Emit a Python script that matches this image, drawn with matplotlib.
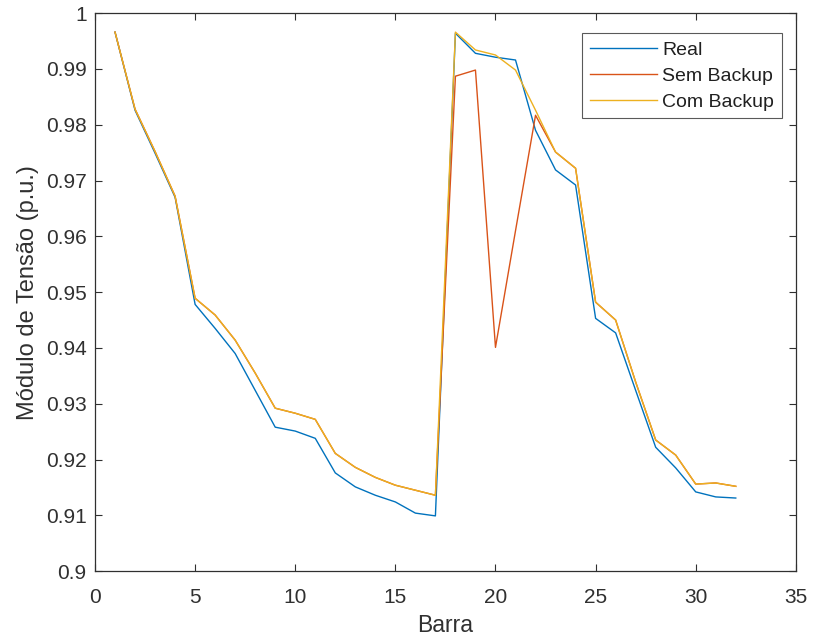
import numpy as np
import matplotlib
matplotlib.use("Agg")
import matplotlib.pyplot as plt

# Tensao por barra (p.u.)
barra = np.arange(1, 33)

real = [0.9966, 0.9826, 0.9749, 0.9670, 0.9478, 0.9435, 0.9390, 0.9324,
        0.9258, 0.9251, 0.9238, 0.9176, 0.9151, 0.9136, 0.9124, 0.9104,
        0.9099, 0.9964, 0.9928, 0.9921, 0.9916, 0.9790, 0.9719, 0.9692,
        0.9453, 0.9427, 0.9324, 0.9222, 0.9185, 0.9142, 0.9133, 0.9131]

sem_backup = [0.9966, 0.9828, 0.9752, 0.9672, 0.9489, 0.9459, 0.9414, 0.9355,
              0.9292, 0.9283, 0.9272, 0.9211, 0.9186, 0.9168, 0.9154, 0.9145,
              0.9136, 0.9887, 0.9898, 0.9401, 0.9610, 0.9817, 0.9751, 0.9722,
              0.9482, 0.9450, 0.9339, 0.9235, 0.9208, 0.9156, 0.9158, 0.9152]

com_backup = [0.9966, 0.9828, 0.9752, 0.9672, 0.9489, 0.9459, 0.9414, 0.9355,
              0.9292, 0.9283, 0.9272, 0.9211, 0.9186, 0.9168, 0.9154, 0.9145,
              0.9136, 0.9966, 0.9934, 0.9925, 0.9898, 0.9826, 0.9751, 0.9722,
              0.9482, 0.9450, 0.9339, 0.9235, 0.9208, 0.9156, 0.9158, 0.9152]

ytick_labels = ["0.9", "0.91", "0.92", "0.93", "0.94", "0.95", "0.96",
                "0.97", "0.98", "0.99", "1"]

plt.rcParams['font.family'] = ['Liberation Sans', 'DejaVu Sans']
cinza = "#303030"

fig = plt.figure(figsize=(8.14, 6.41), dpi=100)
ax = fig.add_axes([0.1167, 0.109, 0.861, 0.8705])

ax.plot(barra, real, color=(0, 0.447, 0.741), lw=1.0, label="Real")
ax.plot(barra, sem_backup, color=(0.85, 0.325, 0.098), lw=1.0, label="Sem Backup")
ax.plot(barra, com_backup, color=(0.929, 0.694, 0.125), lw=1.0, label="Com Backup")

ax.set_xlim(0, 35)
ax.set_ylim(0.9, 1.0)
ax.set_xticks(np.arange(0, 36, 5))
ax.set_yticks(np.linspace(0.9, 1.0, 11))
ax.set_yticklabels(ytick_labels)

ax.tick_params(direction="in", length=5, width=0.8, top=True, right=True,
               labelsize=15, colors=cinza)
ax.tick_params(axis="x", pad=12)
ax.tick_params(axis="y", pad=6)
for s in ax.spines.values():
    s.set_linewidth(0.9)
    s.set_color(cinza)

ax.set_xlabel("Barra", fontsize=16.5, color=cinza, labelpad=5)
ax.set_ylabel("Módulo de Tensão (p.u.)", fontsize=17, color=cinza, labelpad=5)

leg = ax.legend(loc="upper right", bbox_to_anchor=(0.980, 0.964),
                borderaxespad=0, fontsize=14, frameon=True, fancybox=False,
                edgecolor=cinza, handlelength=3.45, handletextpad=0.26,
                labelspacing=0.43, borderpad=0.4)
leg.get_frame().set_linewidth(0.8)
for t in leg.get_texts():
    t.set_color("#202020")

fig.savefig("out.png", dpi=100)
